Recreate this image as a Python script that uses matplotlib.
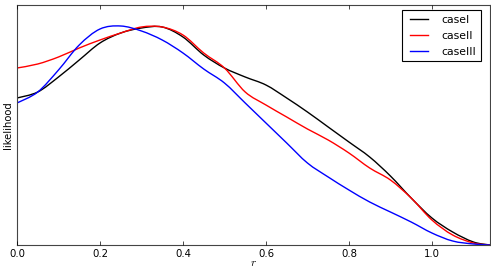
import matplotlib
matplotlib.use("Agg")
import matplotlib.pyplot as plt
from matplotlib.path import Path
from matplotlib.patches import PathPatch
from matplotlib.lines import Line2D

r = [0.0, 0.05, 0.1, 0.15, 0.2, 0.25, 0.3, 0.35, 0.4, 0.45, 0.5, 0.55,
     0.6, 0.65, 0.7, 0.75, 0.8, 0.85, 0.9, 0.95, 1.0, 1.05, 1.1, 1.14]
case1 = [147, 153, 168, 185, 202, 212, 217, 218, 208, 190, 177, 168,
         160, 147, 133, 118, 103, 88, 69, 47, 27, 13, 3, 0]
case2 = [177, 181, 188, 197, 205, 212, 218, 218, 210, 192, 177, 153,
         140, 128, 116, 105, 92, 77, 65, 47, 25, 10, 2, 0]
case3 = [142, 153, 175, 200, 216, 219, 214, 205, 192, 176, 162, 142,
         122, 102, 82, 68, 55, 43, 33, 23, 12, 4, 1, 0]
labels = ["caseI", "caseII", "caseIII"]
colors = ["black", "red", "blue"]
xticks = [0.0, 0.2, 0.4, 0.6, 0.8, 1.0]


def smooth_path(xs, ys):
    # Catmull-Rom through the data points, expressed as cubic Bezier segments
    pts = list(zip(xs, ys))
    verts = [pts[0]]
    codes = [Path.MOVETO]
    n = len(pts)
    for i in range(n - 1):
        p0 = pts[i - 1] if i > 0 else pts[i]
        p1 = pts[i]
        p2 = pts[i + 1]
        p3 = pts[i + 2] if i + 2 < n else pts[i + 1]
        c1 = (p1[0] + (p2[0] - p0[0]) / 6, p1[1] + (p2[1] - p0[1]) / 6)
        c2 = (p2[0] - (p3[0] - p1[0]) / 6, p2[1] - (p3[1] - p1[1]) / 6)
        verts += [c1, c2, p2]
        codes += [Path.CURVE4] * 3
    return Path(verts, codes)


plt.style.use("classic")
fig = plt.figure(figsize=(4.91, 2.73), dpi=100)
ax = fig.add_axes([17/491, 28/273, 473/491, 240/273])
handles = []
for ys, lab, c in zip([case1, case2, case3], labels, colors):
    ax.add_patch(PathPatch(smooth_path(r, ys), facecolor="none",
                           edgecolor=c, lw=1.0))
    handles.append(Line2D([], [], color=c, lw=1.0, label=lab))
ax.set_xlim(0, 1.14)
ax.set_ylim(0, 240)
ax.set_yticks([])
ax.set_xticks(xticks)
ax.set_xticklabels([f"{t:.1f}" for t in xticks], fontsize=7.3)
ax.tick_params(axis="x", length=3, pad=3)
ax.set_xlabel("$r$", fontsize=8, labelpad=-1)
ax.set_ylabel("likelihood", fontsize=7.2, labelpad=3)
leg = ax.legend(handles=handles, loc="upper right", fontsize=7.8,
                bbox_to_anchor=(0.982, 0.98), borderaxespad=0,
                handlelength=2.2, labelspacing=0.55, borderpad=0.45,
                handletextpad=1.0)
leg.get_frame().set_linewidth(0.8)
for s in ax.spines.values():
    s.set_linewidth(0.8)
    s.set_color("#444444")
fig.savefig("out.png", dpi=100)
